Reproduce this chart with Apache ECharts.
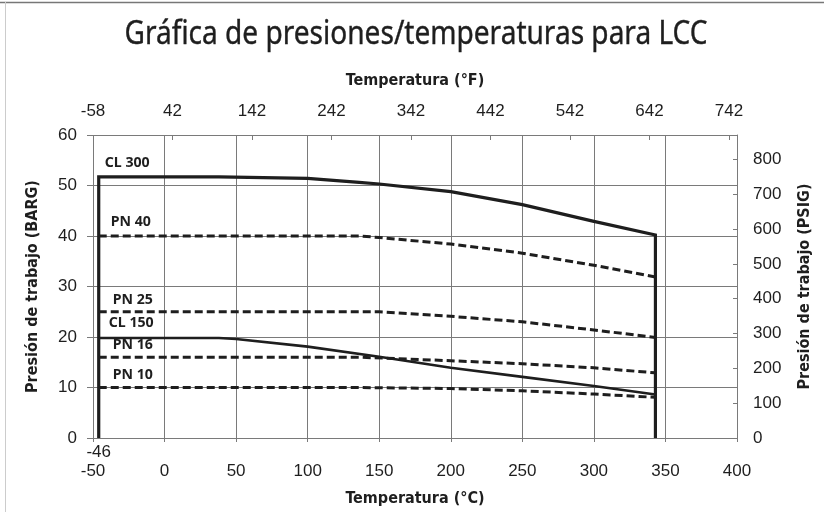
<!DOCTYPE html>
<html>
<head>
<meta charset="utf-8">
<script src="https://cdn.jsdelivr.net/npm/echarts@6/dist/echarts.min.js"></script>
<style>html,body{margin:0;padding:0;background:#fff}#c{width:824px;height:512px}</style>
</head>
<body>
<div id="c"></div>
<script>
// ---- data (°C, barg) ----
const cl300T = [-46, -46, 38, 100, 136, 150, 200, 250, 300, 343, 343];
const cl300P = [0, 51.7, 51.7, 51.4, 50.6, 50.3, 48.8, 46.2, 42.9, 40.2, 0];
const pn40T = [-46, 100, 136, 150, 200, 250, 300, 343];
const pn40P = [40, 40, 40, 39.7, 38.4, 36.6, 34.2, 31.9];
const pn25T = [-46, 136, 150, 200, 250, 300, 343];
const pn25P = [25, 25, 25, 24.1, 23.0, 21.4, 19.9];
const cl150T = [-46, 38, 50, 100, 150, 200, 250, 300, 343];
const cl150P = [19.8, 19.8, 19.6, 18.1, 16.1, 13.9, 12.1, 10.3, 8.6];
const pn16T = [-46, 136, 200, 250, 300, 343];
const pn16P = [16, 16, 15.3, 14.7, 13.9, 12.9];
const pn10T = [-46, 136, 200, 250, 300, 343];
const pn10P = [10, 10, 9.8, 9.35, 8.7, 8.05];
const seriesNames = ['CL 300', 'PN 40', 'PN 25', 'CL 150', 'PN 16', 'PN 10'];
const fTickStart = -58, fTickStep = 100;   // top axis: -58, 42, ... 742
const psiTickStep = 100;                    // right axis: 0 ... 800
const minTempLabel = '-46';
const titleText = 'Gráfica de presiones/temperaturas para LCC';

const BAR_TO_PSI = 14.5038;
const toPairs = (t, p) => t.map((v, i) => [v, p[i]]);
const sets = [
  [cl300T, cl300P, 'solid'], [pn40T, pn40P, 'dashed'], [pn25T, pn25P, 'dashed'],
  [cl150T, cl150P, 'solid'], [pn16T, pn16P, 'dashed'], [pn10T, pn10P, 'dashed']
];

const numFont = "'Liberation Sans', Arial, sans-serif";
const txtFont = "'DejaVu Sans Condensed', 'Liberation Sans', sans-serif";
const titleFont = "'Noto Sans', 'DejaVu Sans', sans-serif";
const gridCol = '#7a7a7a';
const ink = '#1e1e1e';

const chart = echarts.init(document.getElementById('c'), null, {renderer: 'canvas'});
const option = {
  animation: false,
  backgroundColor: '#fff',
  grid: {left: 93, right: 87, top: 135, bottom: 69, show: false},
  xAxis: [{
    type: 'value', min: -50, max: 400, interval: 50, position: 'bottom',
    name: 'Temperatura (°C)', nameLocation: 'middle', nameGap: 53,
    nameTextStyle: {fontFamily: txtFont, fontSize: 16, fontWeight: 'bold', color: ink},
    axisLine: {show: false, onZero: false},
    axisTick: {show: true, length: 4, lineStyle: {color: gridCol}},
    axisLabel: {fontFamily: numFont, fontSize: 17, color: ink, margin: 25},
    splitLine: {show: true, lineStyle: {color: gridCol, width: 1}}
  }, {
    type: 'value', min: fTickStart, max: 752, interval: fTickStep, position: 'top',
    name: 'Temperatura (°F)', nameLocation: 'middle', nameGap: 46,
    nameTextStyle: {fontFamily: txtFont, fontSize: 16, fontWeight: 'bold', color: ink},
    axisLine: {show: true, onZero: false, lineStyle: {color: gridCol}},
    axisTick: {show: true, inside: true, length: 5, lineStyle: {color: gridCol}},
    axisLabel: {fontFamily: numFont, fontSize: 17, color: ink, margin: 15, showMaxLabel: false},
    splitLine: {show: false}
  }],
  yAxis: [{
    type: 'value', min: 0, max: 60, interval: 10, position: 'left',
    name: 'Presión de trabajo (BARG)', nameLocation: 'middle', nameGap: 52,
    nameTextStyle: {fontFamily: txtFont, fontSize: 16, fontWeight: 'bold', color: ink},
    axisLine: {show: false, onZero: false},
    axisTick: {show: true, length: 6, lineStyle: {color: gridCol}},
    axisLabel: {fontFamily: numFont, fontSize: 17, color: ink, margin: 16},
    splitLine: {show: true, lineStyle: {color: gridCol, width: 1}}
  }, {
    type: 'value', min: 0, max: 60 * BAR_TO_PSI, interval: psiTickStep, position: 'right',
    name: 'Presión de trabajo (PSIG)', nameLocation: 'middle', nameGap: 60, nameRotate: 90,
    nameTextStyle: {fontFamily: txtFont, fontSize: 16, fontWeight: 'bold', color: ink},
    axisLine: {show: true, onZero: false, lineStyle: {color: gridCol}},
    axisTick: {show: true, inside: true, length: 4, lineStyle: {color: gridCol}},
    axisLabel: {fontFamily: numFont, fontSize: 17, color: ink, margin: 16, showMaxLabel: false},
    splitLine: {show: false}
  }],
  series: sets.map((s, i) => ({
    name: seriesNames[i], type: 'line', xAxisIndex: 0, yAxisIndex: 0,
    data: toPairs(s[0], s[1]), symbol: 'none', silent: true, z: 5,
    lineStyle: s[2] === 'solid'
      ? {color: ink, width: i === 0 ? 3.2 : 2.6, type: 'solid', join: 'miter'}
      : {color: ink, width: 3, type: [8, 4]}
  }))
};
chart.setOption(option);

// condensed title (real text, horizontally scaled to the reference width)
const titleSize = 33;
const mctx = document.createElement('canvas').getContext('2d');
mctx.font = titleSize + 'px ' + titleFont;
const titleScale = 583 / mctx.measureText(titleText).width;

const gfx = [{
  type: 'text', x: 416, y: 35, scaleX: titleScale, z: 10,
  style: {text: titleText, fontFamily: titleFont, fontSize: titleSize, fill: ink,
    stroke: ink, lineWidth: 0.4, align: 'center', verticalAlign: 'middle'}
}];

// series labels near their start
const labelFontSize = 15;
mctx.font = 'bold ' + labelFontSize + 'px ' + titleFont;
const labelScale = 45 / mctx.measureText(seriesNames[0]).width;
const labelOffsets = [[6, -14], [12, -14], [14, -12], [10, -15], [14, -12], [14, -13]];
sets.forEach((s, i) => {
  const k = i === 0 ? 1 : 0;
  const p = chart.convertToPixel({gridIndex: 0}, [s[0][k], s[1][k]]);
  gfx.push({
    type: 'text', x: p[0] + labelOffsets[i][0], y: p[1] + labelOffsets[i][1], z: 10,
    scaleX: labelScale,
    style: {text: seriesNames[i], fontFamily: titleFont, fontSize: labelFontSize, fontWeight: 'bold',
      fill: ink, align: 'left', verticalAlign: 'middle'}
  });
});
const p0 = chart.convertToPixel({gridIndex: 0}, [cl300T[0], cl300P[0]]);
gfx.push({
  type: 'text', x: p0[0], y: p0[1] + 14, z: 10,
  style: {text: minTempLabel, fontFamily: numFont, fontSize: 17, fill: ink, align: 'center', verticalAlign: 'middle'}
});
gfx.push({type: 'line', shape: {x1: 0, y1: 2.5, x2: 824, y2: 2.5}, style: {stroke: '#777', lineWidth: 1.5}});
gfx.push({type: 'line', shape: {x1: 5.5, y1: 2, x2: 5.5, y2: 512}, style: {stroke: '#ccc', lineWidth: 1}});
chart.setOption({graphic: gfx});
</script>
</body>
</html>
